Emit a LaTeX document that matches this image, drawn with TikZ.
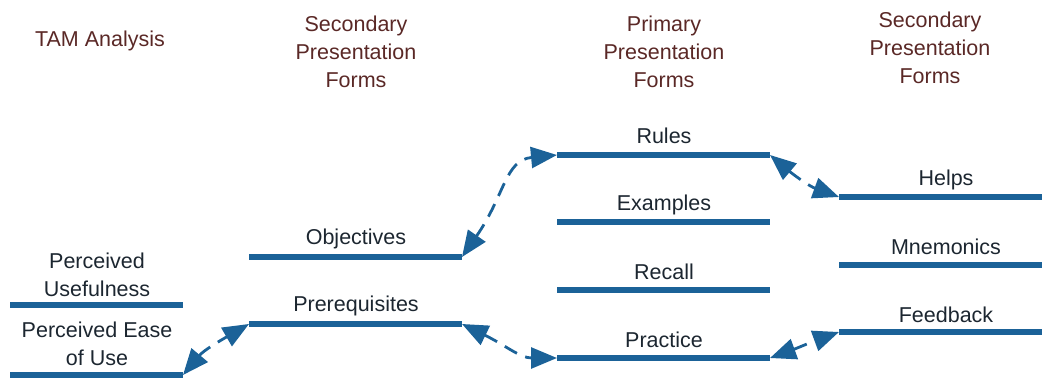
\documentclass[tikz,border=0pt]{standalone}
\usepackage{fontspec}
\setmainfont{Liberation Sans}
\usetikzlibrary{arrows.meta}
\definecolor{barblue}{HTML}{1B6298}
\definecolor{headbrown}{HTML}{5A2826}
\definecolor{txt}{HTML}{1C2630}
\tikzset{
  bar/.style={draw=barblue, line width=6pt},
  lbl/.style={text=txt, font=\fontsize{21.5}{27.5}\selectfont, align=center, inner sep=0pt},
  hdr/.style={text=headbrown, font=\fontsize{21.5}{28}\selectfont, align=center, inner sep=0pt},
  link/.style={draw=barblue, line width=2.8pt, dash pattern=on 14pt off 9pt,
    {Triangle[length=26pt,width=21pt]}-{Triangle[length=26pt,width=21pt]}}
}
\begin{document}
\begin{tikzpicture}[x=1pt,y=-1pt]
\useasboundingbox (0,0) rectangle (1042,378);
% headers
\node[hdr] (h1) at (100,41) {TAM Analysis};
\node[hdr] (h2) at (356,52) {Secondary\\Presentation\\Forms};
\node[hdr] (h3) at (664,52) {Primary\\Presentation\\Forms};
\node[hdr] (h4) at (930,48) {Secondary\\Presentation\\Forms};
% bar end coordinates
\coordinate (puL) at (10,305);  \coordinate (puR) at (183,305);
\coordinate (peL) at (10,375);  \coordinate (peR) at (183,375);
\coordinate (obL) at (249,257); \coordinate (obR) at (462,257);
\coordinate (prL) at (249,324); \coordinate (prR) at (462,324);
\coordinate (ruL) at (557,155); \coordinate (ruR) at (770,155);
\coordinate (exL) at (557,222); \coordinate (exR) at (770,222);
\coordinate (reL) at (557,290); \coordinate (reR) at (770,290);
\coordinate (paL) at (557,358); \coordinate (paR) at (770,358);
\coordinate (heL) at (839,197); \coordinate (heR) at (1042,197);
\coordinate (mnL) at (839,265); \coordinate (mnR) at (1042,265);
\coordinate (feL) at (839,332); \coordinate (feR) at (1042,332);
% bars
\foreach \a in {pu,pe,ob,pr,ru,ex,re,pa,he,mn,fe}{\draw[bar] (\a L) -- (\a R);}
% labels
\node[lbl] (tpu) at (97,275) {Perceived\\Usefulness};
\node[lbl] (tpe) at (97,344) {Perceived Ease\\of Use};
\node[lbl] (tob) at (356,239) {Objectives};
\node[lbl] (tpr) at (356,306) {Prerequisites};
\node[lbl] (tru) at (664,136) {Rules};
\node[lbl] (tex) at (664,205) {Examples};
\node[lbl] (tre) at (664,272) {Recall};
\node[lbl] (tpa) at (664,340) {Practice};
\node[lbl] (the) at (946,180) {Helps};
\node[lbl] (tmn) at (946,247) {Mnemonics};
\node[lbl] (tfe) at (946,315) {Feedback};
% connectors
\draw[link] (peR) to[out=50,in=-150] (prL);
\draw[link] (obR) .. controls (505,195) and (505,160) .. (ruL);
\draw[link] (prR) .. controls (505,345) and (520,358) .. (paL);
\draw[link] (ruR) to[out=-40,in=160] (heL);
\draw[link] (paR) to[out=20,in=200] (feL);
\end{tikzpicture}
\end{document}
